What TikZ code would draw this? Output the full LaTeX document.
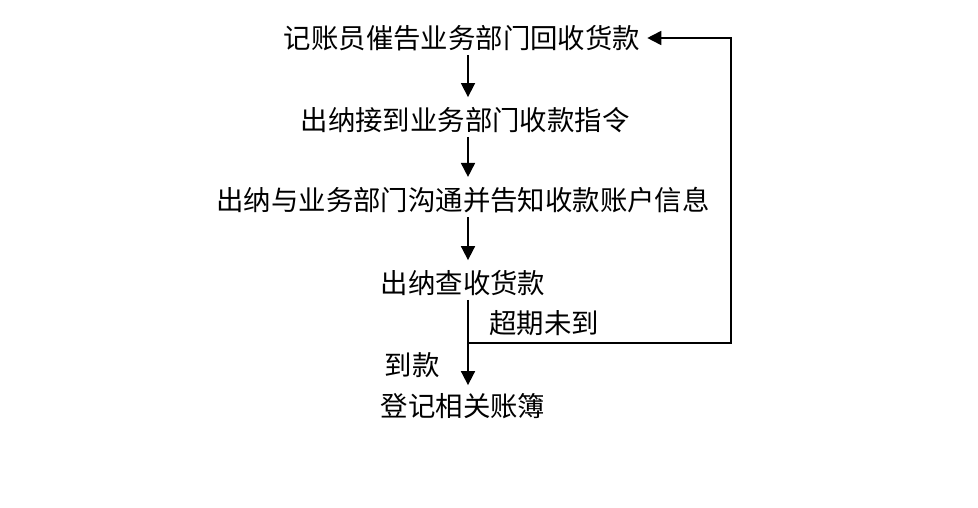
\documentclass[tikz,border=0pt]{standalone}
\usepackage{fontspec}
\newfontfamily\cjk{Noto Sans CJK SC}
\usetikzlibrary{arrows.meta}
\tikzset{
  lbl/.style={font=\cjk\fontsize{27.4bp}{31bp}\selectfont, inner sep=0pt, text=black},
  arr/.style={line width=1.7bp, -{Triangle[length=14bp,width=14bp]}},
  ln/.style={line width=1.7bp}
}
\begin{document}
\begin{tikzpicture}[x=1bp,y=-1bp]
\useasboundingbox[fill=white] (0,0) rectangle (978,508);
\coordinate (col) at (468,0);
\coordinate (rx) at (731,0);
\node[lbl] (t1) at (462,38) {记账员催告业务部门回收货款};
\node[lbl] (t2) at (465,120) {出纳接到业务部门收款指令};
\node[lbl] (t3) at (463,200) {出纳与业务部门沟通并告知收款账户信息};
\node[lbl] (t4) at (463,283) {出纳查收货款};
\node[lbl] (t5) at (463,406) {登记相关账簿};
\node[lbl] (late) at (544,323) {超期未到};
\node[lbl] (ok) at (412,365) {到款};
\coordinate (j) at (468,343);
\draw[arr, shorten <=4bp, shorten >=10bp] (t1.south -| col) -- (t2.north -| col);
\draw[arr, shorten <=4bp, shorten >=10bp] (t2.south -| col) -- (t3.north -| col);
\draw[arr, shorten <=4bp, shorten >=10bp] (t3.south -| col) -- (t4.north -| col);
\draw[arr, shorten <=4bp, shorten >=8bp] (t4.south -| col) -- (t5.north -| col);
\draw[arr, shorten >=7bp] (j) -- (j -| rx) |- (t1.east);
\end{tikzpicture}
\end{document}
